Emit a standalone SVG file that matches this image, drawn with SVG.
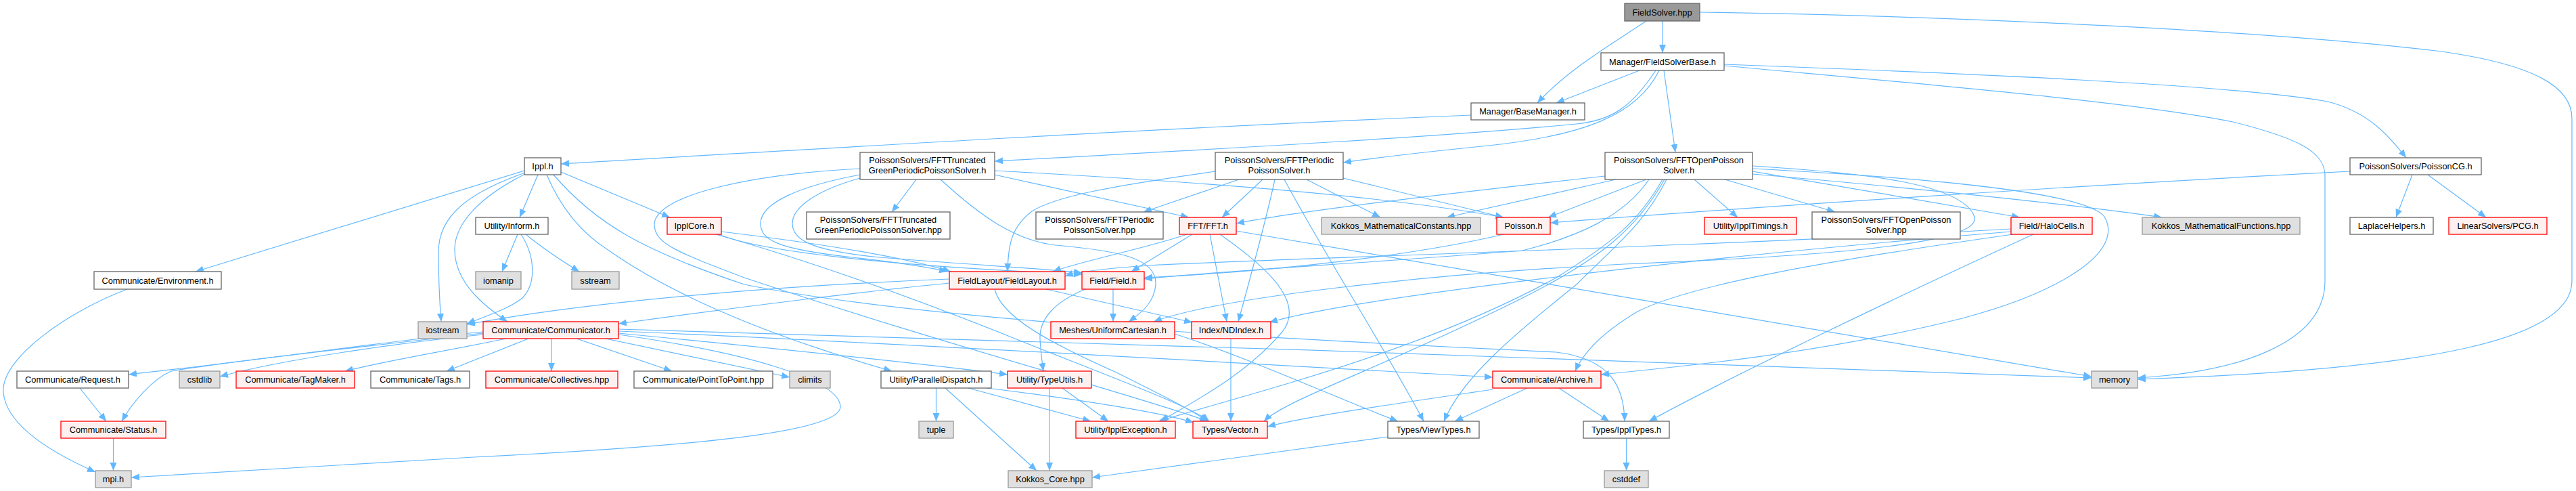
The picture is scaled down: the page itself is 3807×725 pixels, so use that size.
<svg xmlns="http://www.w3.org/2000/svg" width="3807" height="725" viewBox="0 0 3807 725">
<defs>
<marker id="a" markerUnits="userSpaceOnUse" markerWidth="13" markerHeight="10" refX="12" refY="5" orient="auto"><path d="M0,0 L12,5 L0,10 z" fill="#63b8ff"/></marker>
<style>
.node rect{stroke-width:1.3}
.w{fill:#ffffff;stroke:#666666}
.r{fill:#fff0f0;stroke:#ff0000}
.g{fill:#e0e0e0;stroke:#999999}
.root{fill:#999999;stroke:#666666}
text{font-family:"Liberation Sans",Arial,sans-serif;font-size:12.8px;text-anchor:middle;fill:#000000}
#edges path{fill:none;stroke:#63b8ff;stroke-width:1.2;marker-end:url(#a)}
</style>
</defs>
<rect x="0" y="0" width="3807" height="725" fill="#ffffff"/>
<g id="edges">
<path d="M2433,31 C2390,60 2320,100 2272,152"/>
<path d="M2457,31 L2457,78"/>
<path d="M2512,18 C2800,22 3300,40 3600,75 C3750,95 3801,130 3801,175 L3801,415 C3801,500 3600,545 3159,560"/>
<path d="M2423,104 L2300,152"/>
<path d="M2452,104 C2420,170 2340,200 2200,215 C2100,225 2040,232 1985,240"/>
<path d="M2447,104 C2410,160 2380,178 2330,183 C2100,205 1700,225 1470,238"/>
<path d="M2459,104 L2476,225"/>
<path d="M2548,95 C2900,108 3300,125 3440,150 C3500,165 3530,200 3556,233"/>
<path d="M2548,97 C2850,125 3150,150 3300,180 C3400,205 3436,225 3436,260 L3436,415 C3436,510 3300,550 3159,558"/>
<path d="M2174,170 C1700,190 1200,220 829,242"/>
<path d="M775,252 L289,401"/>
<path d="M776,255 C690,285 648,320 648,372 C648,420 650,450 652,475"/>
<path d="M776,257 C710,290 671,330 672,370 C673,420 720,455 750,475"/>
<path d="M795,258 L768,321"/>
<path d="M829,254 L990,321"/>
<path d="M808,258 C830,310 860,345 900,370 C1000,440 1150,500 1318,548"/>
<path d="M818,258 C880,330 950,370 1100,420 C1400,480 2000,505 2300,520 C2380,530 2400,570 2401,622"/>
<path d="M765,346 L742,401"/>
<path d="M777,346 C800,365 830,385 856,401"/>
<path d="M770,346 C792,380 792,420 772,440 C752,456 720,466 690,478"/>
<path d="M1066,342 C1200,358 1330,378 1405,401"/>
<path d="M1058,346 C1150,372 1300,420 1500,500 C1650,560 1760,600 1787,622"/>
<path d="M1062,346 C1120,370 1300,392 1599,405"/>
<path d="M1354,265 L1318,313"/>
<path d="M1470,258 L1757,321"/>
<path d="M1470,252 C1800,270 2050,290 2222,321"/>
<path d="M1390,265 C1450,320 1500,355 1560,362 C1650,370 1710,380 1708,420 C1706,445 1690,460 1668,475"/>
<path d="M1271,258 C1180,275 1124,300 1124,330 C1124,355 1150,368 1260,380 C1330,388 1370,394 1400,401"/>
<path d="M1271,263 C1210,280 1171,305 1171,330 C1171,355 1200,370 1300,380 C1450,392 1550,397 1599,403"/>
<path d="M1271,249 C1100,258 965,290 967,333 C969,360 1000,372 1100,410 C1400,510 1700,590 1785,622"/>
<path d="M1796,253 C1640,275 1560,290 1525,312 C1495,335 1490,360 1489,401"/>
<path d="M1831,265 L1690,313"/>
<path d="M1866,265 L1806,321"/>
<path d="M1884,265 C1870,330 1845,420 1830,475"/>
<path d="M1931,265 L2040,321"/>
<path d="M1898,265 C1960,380 2050,520 2104,622"/>
<path d="M1985,263 L2222,321"/>
<path d="M2372,260 C2100,290 1900,315 1827,330"/>
<path d="M2388,265 L2138,321"/>
<path d="M2433,265 L2288,321"/>
<path d="M2437,265 C2400,320 2330,350 2250,370 C2000,390 1800,400 1691,412"/>
<path d="M2457,265 C2420,330 2380,360 2300,410 C2100,520 1850,580 1712,622"/>
<path d="M2463,265 C2430,330 2390,360 2330,420 C2230,500 2160,560 2134,622"/>
<path d="M2460,265 C2420,335 2370,380 2250,440 C2050,540 1900,590 1868,622"/>
<path d="M2504,265 L2568,321"/>
<path d="M2549,265 L2712,313"/>
<path d="M2590,253 L2985,321"/>
<path d="M2590,257 C2800,275 3050,300 3195,321"/>
<path d="M2590,249 C2800,260 3080,280 3110,320 C3140,370 3050,430 2900,470 C2700,520 2500,540 2366,553"/>
<path d="M2590,245 C2750,255 2900,270 2918,320 C2930,360 2700,378 2400,390 C2100,405 1800,440 1705,475"/>
<path d="M3473,253 C3100,272 2600,305 2291,329"/>
<path d="M3565,258 L3541,321"/>
<path d="M3588,258 L3674,321"/>
<path d="M2222,346 C2100,375 1900,400 1691,410"/>
<path d="M3005,346 C2800,440 2550,560 2437,622"/>
<path d="M2975,346 C2700,385 2500,420 2420,460 C2370,490 2340,520 2328,548"/>
<path d="M2972,338 C2500,365 1800,385 1700,392 C1620,397 1590,402 1574,408"/>
<path d="M2972,342 C2500,380 2000,440 1876,476"/>
<path d="M1754,346 C1700,365 1600,385 1556,401"/>
<path d="M1762,346 L1672,401"/>
<path d="M1788,346 L1813,475"/>
<path d="M1803,346 C1850,380 1935,440 1895,490 C1840,555 1760,595 1715,622"/>
<path d="M1827,341 L3091,556"/>
<path d="M1403,418 C1300,428 1100,452 914,478"/>
<path d="M1403,412 C1200,420 900,440 690,479"/>
<path d="M1546,427 L1762,476"/>
<path d="M1470,427 C1480,470 1560,510 1650,550 C1720,585 1760,605 1785,622"/>
<path d="M1645,427 L1645,475"/>
<path d="M1604,427 C1560,445 1536,470 1537,500 C1538,520 1540,535 1542,548"/>
<path d="M714,490 C600,500 400,530 190,553"/>
<path d="M714,492 C550,510 330,535 253,548 C225,560 195,595 180,622"/>
<path d="M714,494 C600,505 420,530 325,556"/>
<path d="M748,500 C650,520 560,535 510,548"/>
<path d="M781,500 L660,548"/>
<path d="M815,500 L815,548"/>
<path d="M852,500 L993,548"/>
<path d="M895,500 L1167,557"/>
<path d="M914,494 C1100,520 1240,560 1242,600 C1244,640 1000,660 700,675 C450,690 300,700 194,705"/>
<path d="M914,492 C1100,510 1350,535 1489,553"/>
<path d="M914,489 C1300,505 1900,540 2206,557"/>
<path d="M914,486 C1500,500 2600,540 3091,558"/>
<path d="M1383.5,573 L1383.5,622"/>
<path d="M1397,573 L1532,695"/>
<path d="M1431,573 L1612,622"/>
<path d="M1458,573 C1600,590 1720,610 1764,624"/>
<path d="M1551,573 L1551,695"/>
<path d="M1570,573 L1638,622"/>
<path d="M1819,500 L1819,622"/>
<path d="M2257,573 L2150,622"/>
<path d="M2304,573 L2378,622"/>
<path d="M2206,575 C2050,598 1930,615 1873,630"/>
<path d="M2051,645 L1614,705"/>
<path d="M2403.5,647 L2403.5,695"/>
<path d="M118,573 L157,622"/>
<path d="M167.5,647 L167.5,695"/>
<path d="M188,427 C100,460 0,530 5,580 C10,630 80,670 141,697"/>
<path d="M1736,493 C1850,530 1980,590 2066,622"/>
</g>
<g id="n1" class="node"><rect class="root" x="2401" y="5" width="111" height="26"/><text x="2456.5" y="22.5">FieldSolver.hpp</text></g>
<g id="n2" class="node"><rect class="w" x="2366" y="78" width="182" height="26"/><text x="2457" y="95.5">Manager/FieldSolverBase.h</text></g>
<g id="n3" class="node"><rect class="w" x="2174" y="152" width="168" height="25"/><text x="2258" y="169">Manager/BaseManager.h</text></g>
<g id="n4" class="node"><rect class="w" x="775" y="233" width="54" height="25"/><text x="802" y="250">Ippl.h</text></g>
<g id="n5" class="node"><rect class="w" x="1271" y="225" width="199" height="40"/><text x="1370.5" y="241">PoissonSolvers/FFTTruncated</text><text x="1370.5" y="256">GreenPeriodicPoissonSolver.h</text></g>
<g id="n6" class="node"><rect class="w" x="1796" y="225" width="189" height="40"/><text x="1890.5" y="241">PoissonSolvers/FFTPeriodic</text><text x="1890.5" y="256">PoissonSolver.h</text></g>
<g id="n7" class="node"><rect class="w" x="2372" y="225" width="218" height="40"/><text x="2481" y="241">PoissonSolvers/FFTOpenPoisson</text><text x="2481" y="256">Solver.h</text></g>
<g id="n8" class="node"><rect class="w" x="3473" y="233" width="194" height="25"/><text x="3570" y="250">PoissonSolvers/PoissonCG.h</text></g>
<g id="n9" class="node"><rect class="w" x="703" y="321" width="107" height="25"/><text x="756.5" y="338">Utility/Inform.h</text></g>
<g id="n10" class="node"><rect class="r" x="986" y="321" width="80" height="25"/><text x="1026" y="338">IpplCore.h</text></g>
<g id="n11" class="node"><rect class="w" x="1192" y="313" width="212" height="40"/><text x="1298" y="329">PoissonSolvers/FFTTruncated</text><text x="1298" y="344">GreenPeriodicPoissonSolver.hpp</text></g>
<g id="n12" class="node"><rect class="w" x="1531" y="313" width="188" height="40"/><text x="1625" y="329">PoissonSolvers/FFTPeriodic</text><text x="1625" y="344">PoissonSolver.hpp</text></g>
<g id="n13" class="node"><rect class="r" x="1743" y="321" width="84" height="25"/><text x="1785" y="338">FFT/FFT.h</text></g>
<g id="n14" class="node"><rect class="g" x="1953" y="321" width="235" height="25"/><text x="2070.5" y="338">Kokkos_MathematicalConstants.hpp</text></g>
<g id="n15" class="node"><rect class="r" x="2212" y="321" width="79" height="25"/><text x="2251.5" y="338">Poisson.h</text></g>
<g id="n16" class="node"><rect class="r" x="2519" y="321" width="136" height="25"/><text x="2587" y="338">Utility/IpplTimings.h</text></g>
<g id="n17" class="node"><rect class="w" x="2678" y="313" width="219" height="40"/><text x="2787.5" y="329">PoissonSolvers/FFTOpenPoisson</text><text x="2787.5" y="344">Solver.hpp</text></g>
<g id="n18" class="node"><rect class="r" x="2972" y="321" width="120" height="25"/><text x="3032" y="338">Field/HaloCells.h</text></g>
<g id="n19" class="node"><rect class="g" x="3166" y="321" width="233" height="25"/><text x="3282.5" y="338">Kokkos_MathematicalFunctions.hpp</text></g>
<g id="n20" class="node"><rect class="w" x="3473" y="321" width="123" height="25"/><text x="3534.5" y="338">LaplaceHelpers.h</text></g>
<g id="n21" class="node"><rect class="r" x="3619" y="321" width="145" height="25"/><text x="3691.5" y="338">LinearSolvers/PCG.h</text></g>
<g id="n22" class="node"><rect class="w" x="139" y="401" width="188" height="26"/><text x="233" y="418.5">Communicate/Environment.h</text></g>
<g id="n23" class="node"><rect class="g" x="703" y="401" width="67" height="26"/><text x="736.5" y="418.5">iomanip</text></g>
<g id="n24" class="node"><rect class="g" x="845" y="401" width="70" height="26"/><text x="880" y="418.5">sstream</text></g>
<g id="n25" class="node"><rect class="r" x="1403" y="401" width="171" height="26"/><text x="1488.5" y="418.5">FieldLayout/FieldLayout.h</text></g>
<g id="n26" class="node"><rect class="r" x="1599" y="401" width="92" height="26"/><text x="1645" y="418.5">Field/Field.h</text></g>
<g id="n27" class="node"><rect class="g" x="618" y="475" width="72" height="25"/><text x="654" y="492">iostream</text></g>
<g id="n28" class="node"><rect class="r" x="714" y="475" width="200" height="25"/><text x="814" y="492">Communicate/Communicator.h</text></g>
<g id="n29" class="node"><rect class="r" x="1553" y="475" width="183" height="25"/><text x="1644.5" y="492">Meshes/UniformCartesian.h</text></g>
<g id="n30" class="node"><rect class="r" x="1761" y="475" width="117" height="25"/><text x="1819.5" y="492">Index/NDIndex.h</text></g>
<g id="n31" class="node"><rect class="w" x="25" y="548" width="165" height="25"/><text x="107.5" y="565">Communicate/Request.h</text></g>
<g id="n32" class="node"><rect class="g" x="265" y="548" width="60" height="25"/><text x="295" y="565">cstdlib</text></g>
<g id="n33" class="node"><rect class="r" x="349" y="548" width="175" height="25"/><text x="436.5" y="565">Communicate/TagMaker.h</text></g>
<g id="n34" class="node"><rect class="w" x="548" y="548" width="146" height="25"/><text x="621" y="565">Communicate/Tags.h</text></g>
<g id="n35" class="node"><rect class="r" x="718" y="548" width="195" height="25"/><text x="815.5" y="565">Communicate/Collectives.hpp</text></g>
<g id="n36" class="node"><rect class="w" x="937" y="548" width="205" height="25"/><text x="1039.5" y="565">Communicate/PointToPoint.hpp</text></g>
<g id="n37" class="node"><rect class="g" x="1167" y="548" width="60" height="25"/><text x="1197" y="565">climits</text></g>
<g id="n38" class="node"><rect class="w" x="1302" y="548" width="163" height="25"/><text x="1383.5" y="565">Utility/ParallelDispatch.h</text></g>
<g id="n39" class="node"><rect class="r" x="1489" y="548" width="124" height="25"/><text x="1551" y="565">Utility/TypeUtils.h</text></g>
<g id="n40" class="node"><rect class="r" x="2206" y="548" width="160" height="25"/><text x="2286" y="565">Communicate/Archive.h</text></g>
<g id="n41" class="node"><rect class="g" x="3091" y="548" width="68" height="25"/><text x="3125" y="565">memory</text></g>
<g id="n42" class="node"><rect class="r" x="90" y="622" width="155" height="25"/><text x="167.5" y="639">Communicate/Status.h</text></g>
<g id="n43" class="node"><rect class="g" x="1358" y="622" width="51" height="25"/><text x="1383.5" y="639">tuple</text></g>
<g id="n44" class="node"><rect class="r" x="1590" y="622" width="147" height="25"/><text x="1663.5" y="639">Utility/IpplException.h</text></g>
<g id="n45" class="node"><rect class="r" x="1763" y="622" width="110" height="25"/><text x="1818" y="639">Types/Vector.h</text></g>
<g id="n46" class="node"><rect class="w" x="2051" y="622" width="135" height="25"/><text x="2118.5" y="639">Types/ViewTypes.h</text></g>
<g id="n47" class="node"><rect class="w" x="2340" y="622" width="127" height="25"/><text x="2403.5" y="639">Types/IpplTypes.h</text></g>
<g id="n48" class="node"><rect class="g" x="141" y="695" width="53" height="25"/><text x="167.5" y="712">mpi.h</text></g>
<g id="n49" class="node"><rect class="g" x="1490" y="695" width="124" height="25"/><text x="1552" y="712">Kokkos_Core.hpp</text></g>
<g id="n50" class="node"><rect class="g" x="2371" y="695" width="65" height="25"/><text x="2403.5" y="712">cstddef</text></g>
</svg>
